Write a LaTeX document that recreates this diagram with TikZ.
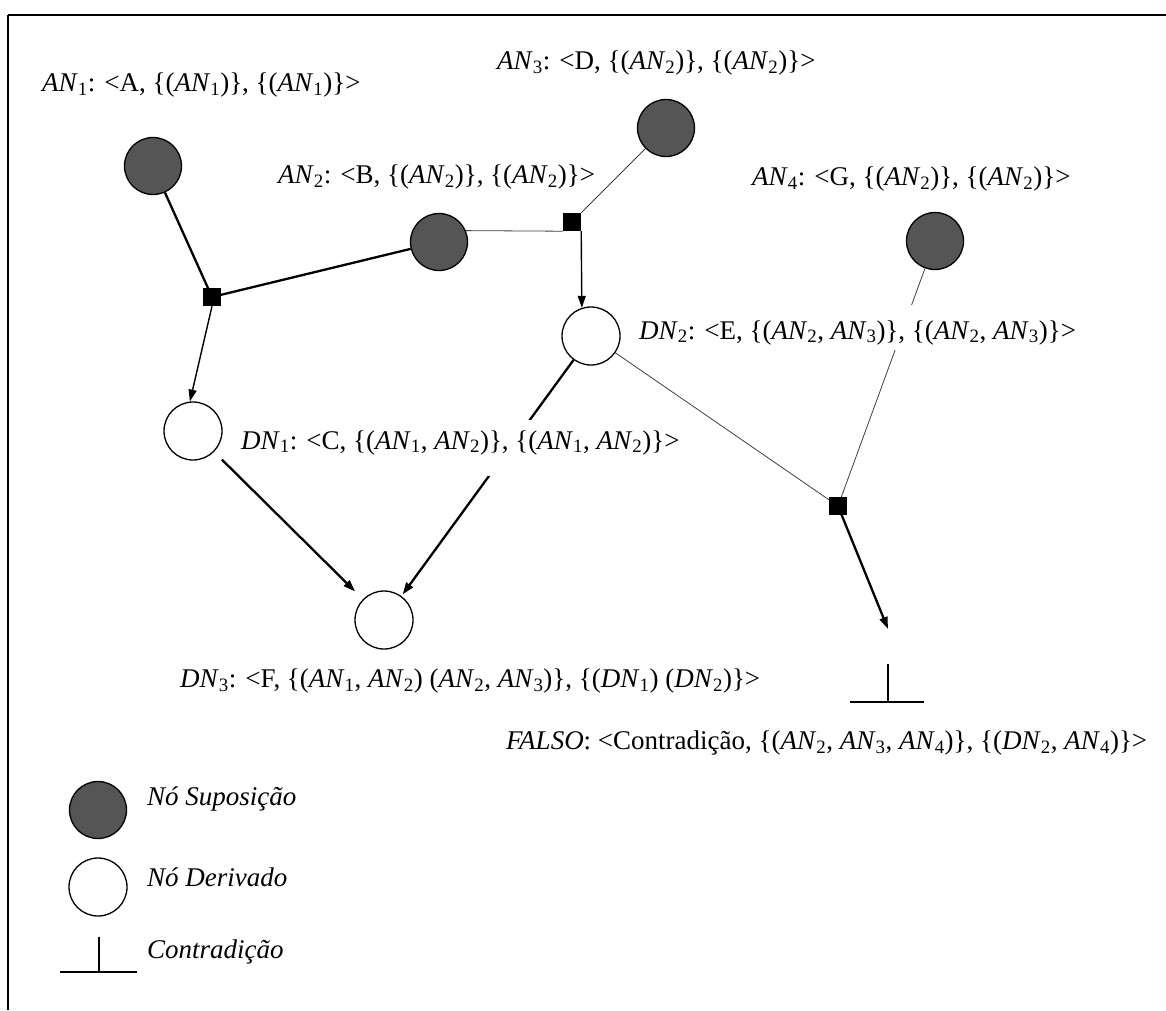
\documentclass[tikz,border=0pt]{standalone}
\usepackage{fontspec}
\setmainfont{Liberation Serif}
\usetikzlibrary{arrows.meta,backgrounds}
\newcommand{\myan}[1]{\textit{AN}\textsubscript{#1}}
\newcommand{\mydn}[1]{\textit{DN}\textsubscript{#1}}
\definecolor{anfill}{RGB}{85,85,85}
\begin{document}
\begin{tikzpicture}[x=1pt,y=-1pt,
  anode/.style={circle, draw=black, line width=1.3pt, fill=anfill, minimum size=57pt, inner sep=0pt},
  dnode/.style={circle, draw=black, line width=1.3pt, fill=white, minimum size=58pt, inner sep=0pt},
  junc/.style={rectangle, fill=black, minimum size=18pt, inner sep=0pt},
  lbl/.style={font=\fontsize{27}{32}\selectfont, inner sep=0pt},
  thickl/.style={line width=2.3pt},
  medl/.style={line width=1.4pt},
  thinl/.style={line width=0.8pt, draw=black!75},
  tip/.style={-{Triangle[length=12pt,width=8pt]}}
]
\useasboundingbox (0,0) rectangle (1166,1010);
\draw[line width=1.8pt] (8,15) -- (1166,15);
\draw[line width=1.4pt] (8,15) -- (8,1010);

% nodes
\node[anode] (an1) at (153,166) {};
\node[anode] (an2) at (439,242) {};
\node[anode] (an3) at (666,128) {};
\node[anode] (an4) at (935,241) {};
\node[junc] (s1) at (212,297) {};
\node[junc] (s2) at (572,222) {};
\node[junc] (s3) at (838,506) {};
\node[dnode] (dn2) at (591,336) {};
\node[dnode] (dn1) at (193,431) {};
\node[dnode] (dn3) at (384,620) {};
\coordinate (ftip) at (888,629);
\coordinate (fv1) at (888,664);
\coordinate (fv2) at (888,702);
\coordinate (fh1) at (850,702);
\coordinate (fh2) at (924,702);

% labels
\node[lbl, anchor=west] (l1) at (42,85) {\myan{1}: <A, \{(\myan{1})\}, \{(\myan{1})\}>};
\node[lbl, anchor=west] (l3) at (497,63) {\myan{3}: <D, \{(\myan{2})\}, \{(\myan{2})\}>};
\node[lbl, anchor=west] (l2) at (278,177) {\myan{2}: <B, \{(\myan{2})\}, \{(\myan{2})\}>};
\node[lbl, anchor=west] (l4) at (752,179) {\myan{4}: <G, \{(\myan{2})\}, \{(\myan{2})\}>};
\node[lbl, anchor=base west, fill=white, inner xsep=1pt, text height=34pt, text depth=11pt] (ld2) at (638,339) {\mydn{2}: <E, \{(\myan{2}, \myan{3})\}, \{(\myan{2}, \myan{3})\}>};
\node[lbl, anchor=base west, fill=white, inner xsep=0pt, text height=29pt, text depth=27pt] (ld1) at (241,449) {\mydn{1}: <C, \{(\myan{1}, \myan{2})\}, \{(\myan{1}, \myan{2})\}>};
\node[lbl, anchor=west] (ld3) at (180,681) {\mydn{3}: <F, \{(\myan{1}, \myan{2}) (\myan{2}, \myan{3})\}, \{(\mydn{1}) (\mydn{2})\}>};
\node[lbl, anchor=west] (lf) at (506,743) {\textit{FALSO}: <Contradição, \{(\myan{2}, \myan{3}, \myan{4})\}, \{(\mydn{2}, \myan{4})\}>};

% legend
\node[anode] (lega) at (98,810) {};
\node[dnode] (legd) at (98,887) {};
\coordinate (lv1) at (99,937);
\coordinate (lv2) at (99,972);
\coordinate (lh1) at (60,972);
\coordinate (lh2) at (137,972);
\node[lbl, anchor=west] (lta) at (147,799) {\textit{Nó Suposição}};
\node[lbl, anchor=west] (ltd) at (147,877) {\textit{Nó Derivado}};
\node[lbl, anchor=west] (ltc) at (147,952) {\textit{Contradição}};

\begin{pgfonlayer}{background}
\fill[white] (0,0) rectangle (1166,1010);
\draw[thickl] (an1) -- (s1.center);
\draw[thickl] (an2) -- (s1.center);
\draw[medl, tip] (s1.south) -- (dn1.96);
\draw[thinl] (an2.23) -- (s2.south west);
\draw[thinl] (an3) -- (s2.north east);
\draw[medl, tip] (s2.south east) -- (dn2.108);
\draw[thickl, tip, shorten >=2pt] (dn2) -- (dn3);
\draw[thickl, tip, shorten <=11pt, shorten >=11pt] (dn1) -- (dn3);
\draw[thinl] (dn2) -- (s3.center);
\draw[thinl] (an4) -- (s3.center);
\draw[thickl, tip] (s3.center) -- (ftip);
\end{pgfonlayer}
\draw[line width=1.3pt] (fv1) -- (fv2);
\draw[line width=1.3pt] (fh1) -- (fh2);
\draw[line width=1.3pt] (lv1) -- (lv2);
\draw[line width=1.3pt] (lh1) -- (lh2);
\end{tikzpicture}
\end{document}
